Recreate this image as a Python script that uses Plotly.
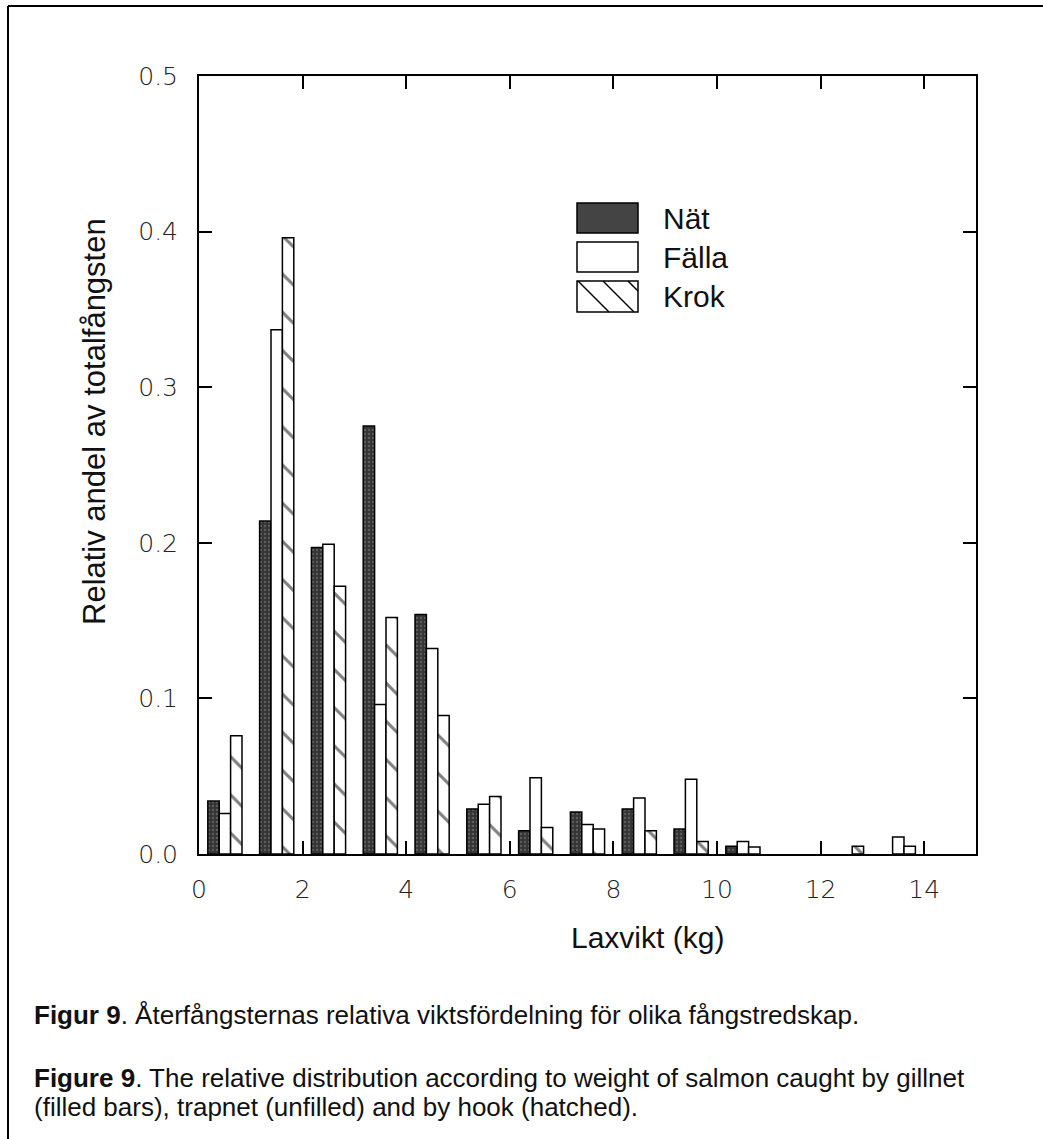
import plotly.graph_objects as go

# ---- data ----
bins = list(range(15))  # weight classes (kg), bin i spans [i, i+1)
nat = [0.034, 0.214, 0.197, 0.275, 0.154, 0.029, 0.015, 0.027, 0.029, 0.016, 0.005, None, None, None, None]
falla = [0.026, 0.337, 0.199, 0.096, 0.132, 0.032, 0.049, 0.019, 0.036, 0.048, 0.008, None, None, 0.011, None]
krok = [0.076, 0.396, 0.172, 0.152, 0.089, 0.037, 0.017, 0.016, 0.015, 0.008, 0.0045, None, 0.005, 0.005, None]
series_names = ["Nät", "Fälla", "Krok"]
x_ticks = [0, 2, 4, 6, 8, 10, 12, 14]
y_ticks = [0.0, 0.1, 0.2, 0.3, 0.4, 0.5]

centers = [b + 0.5 for b in bins]

# ---- layout geometry (pixels) ----
W, H = 1043, 1139
L, R, T, B = 199, 67, 76, 285
PW, PH = W - L - R, H - T - B
XMAX, YMAX = 15, 0.5

def px2x(px):
    return (px - L) / PW * XMAX

def py2y(py):
    return (T + PH - py) / PH * YMAX

def px2paper(px):
    return (px - L) / PW

def py2paper(py):
    return (T + PH - py) / PH

TXT = "Liberation Sans, Arial, sans-serif"
TICKF = "DejaVu Sans, sans-serif"

fig = go.Figure()
line = dict(color="black", width=1.5)
fig.add_trace(go.Bar(
    x=centers, y=nat, name=series_names[0],
    marker=dict(color="#444", line=line,
                pattern=dict(shape=".", bgcolor="#353535", fgcolor="#8a8a8a", size=4, solidity=0.25)),
))
fig.add_trace(go.Bar(
    x=centers, y=falla, name=series_names[1],
    marker=dict(color="white", line=line),
))
fig.add_trace(go.Bar(
    x=centers, y=krok, name=series_names[2],
    marker=dict(color="white", line=line,
                pattern=dict(shape="\\", bgcolor="white", fgcolor="black", size=27, solidity=0.11)),
))

fig.update_layout(
    width=W, height=H, autosize=False,
    margin=dict(l=L, r=R, t=T, b=B, pad=0),
    paper_bgcolor="white", plot_bgcolor="white",
    barmode="group", bargap=0.34, bargroupgap=0,
    showlegend=False,
    font=dict(family=TXT, color="#111"),
)
tickfont = dict(family=TICKF, size=25, color="#222", weight=300)
fig.update_xaxes(
    range=[0, XMAX], tickvals=x_ticks, ticktext=[str(v) for v in x_ticks],
    showgrid=False, zeroline=False, showline=True, linecolor="black", linewidth=2,
    mirror="ticks", ticks="inside", ticklen=13, tickwidth=1.5, tickcolor="black",
    tickfont=tickfont, ticklabelstandoff=12,
)
fig.update_yaxes(
    range=[0, YMAX], tickvals=y_ticks, ticktext=[f"{v:.1f}" for v in y_ticks],
    showgrid=False, zeroline=False, showline=True, linecolor="black", linewidth=2,
    mirror="ticks", ticks="inside", ticklen=13, tickwidth=1.5, tickcolor="black",
    tickfont=tickfont, ticklabelstandoff=14,
)

shapes = []
annotations = []

# ---- legend (drawn manually) ----
leg_x0, leg_x1 = 577, 638
leg_rows = [(203, 233), (242, 272), (281, 312)]
for i, (ya, yb) in enumerate(leg_rows):
    fill = "#444" if i == 0 else "white"
    shapes.append(dict(type="rect", xref="x", yref="y",
                       x0=px2x(leg_x0), x1=px2x(leg_x1), y0=py2y(yb), y1=py2y(ya),
                       fillcolor=fill, line=dict(color="black", width=1.5), layer="above"))
    annotations.append(dict(xref="x", yref="y", x=px2x(661), y=py2y((ya + yb) / 2),
                            text=series_names[i], showarrow=False, xanchor="left", yanchor="middle",
                            font=dict(family=TXT, size=30, color="#111")))
# hatching of Krok legend box
ya, yb = leg_rows[2]
hh = yb - ya
for sx in [578, 603, 628]:
    ex = min(sx + hh, leg_x1)
    ey = ya + (ex - sx)
    shapes.append(dict(type="line", xref="x", yref="y",
                       x0=px2x(sx), y0=py2y(ya), x1=px2x(ex), y1=py2y(ey),
                       line=dict(color="black", width=1.5), layer="above"))

# ---- axis titles ----
annotations.append(dict(xref="paper", yref="paper", x=px2paper(647), y=py2paper(937),
                        text="Laxvikt (kg)", showarrow=False, xanchor="center", yanchor="middle",
                        font=dict(family=TXT, size=30, color="#111")))
annotations.append(dict(xref="paper", yref="paper", x=px2paper(95), y=py2paper(422),
                        text="Relativ andel av totalfångsten", showarrow=False, textangle=-90,
                        xanchor="center", yanchor="middle",
                        font=dict(family=TXT, size=31, color="#111")))

# ---- captions ----
captions = [
    (1015, "<b>Figur 9</b>. Återfångsternas relativa viktsfördelning för olika fångstredskap."),
    (1078, "<b>Figure 9</b>. The relative distribution according to weight of salmon caught by gillnet"),
    (1107, "(filled bars), trapnet (unfilled) and by hook (hatched)."),
]
for py, t in captions:
    annotations.append(dict(xref="paper", yref="paper", x=px2paper(32), y=py2paper(py),
                            text=t, showarrow=False, xanchor="left", yanchor="middle",
                            font=dict(family=TXT, size=26, color="#111")))

# ---- page frame (top and left border lines) ----
shapes.append(dict(type="line", xref="paper", yref="paper",
                   x0=px2paper(8), y0=py2paper(6), x1=px2paper(W), y1=py2paper(6),
                   line=dict(color="black", width=2)))
shapes.append(dict(type="line", xref="paper", yref="paper",
                   x0=px2paper(8), y0=py2paper(6), x1=px2paper(8), y1=py2paper(H),
                   line=dict(color="black", width=2)))

fig.update_layout(shapes=shapes, annotations=annotations)
fig.write_html("out.html")
